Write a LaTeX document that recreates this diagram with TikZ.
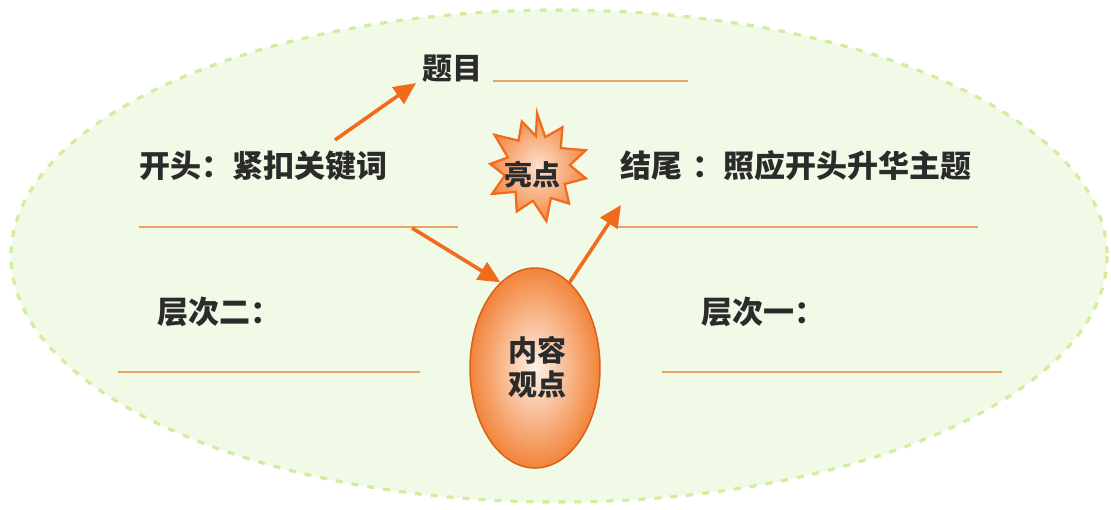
\documentclass[tikz,border=0pt]{standalone}
\usepackage{fontspec}
\newfontfamily\cjk{Noto Sans CJK SC}
\usetikzlibrary{arrows.meta,shapes.geometric}
\definecolor{bgfill}{HTML}{F1FAE6}
\definecolor{bgdash}{HTML}{D3EC9E}
\definecolor{orarrow}{HTML}{F26A1B}
\definecolor{orline}{HTML}{EBA262}
\definecolor{orfill}{HTML}{F2843A}
\definecolor{txt}{HTML}{2B2B2B}
\tikzset{
  lbl/.style={font=\cjk\bfseries\fontsize{31}{33}\selectfont, text=txt, inner sep=0pt, anchor=west},
  blank/.style={draw=orline, line width=2.6pt},
  arr/.style={draw=orarrow, line width=3.6pt, -{Triangle[length=22pt,width=20pt]}},
  ovalstyle/.style={ellipse, draw=orarrow!90!black, line width=1.5pt, minimum width=130pt, minimum height=200pt,
     inner color=white!88!orfill, outer color=orfill, inner sep=0pt},
  starstyle/.style={draw=orarrow, line width=2.2pt, inner color=white!75!orfill, outer color=orfill!95!white},
}
\begin{document}
\begin{tikzpicture}[x=1pt,y=-1pt]
\useasboundingbox (0,0) rectangle (1111,509);
% background ellipse
\draw[fill=bgfill, draw=bgdash, line width=3.2pt, dash pattern=on 7pt off 9pt] (559,256) ellipse [x radius=548, y radius=246];
% texts
\node[lbl, font=\cjk\bfseries\fontsize{30}{32}\selectfont] (timu) at (422,69) {题目};
\node[lbl] (kaitou) at (139,166) {开头：紧扣关键词};
\node[lbl] (jiewei) at (620,166) {结尾\hspace{10pt}：照应开头升华主题};
\node[lbl] (ceng2) at (157,312) {层次二：};
\node[lbl] (ceng1) at (701,312) {层次一：};
% blank lines
\coordinate (t1) at (493,81); \coordinate (t2) at (688,81);
\coordinate (l1) at (139,227); \coordinate (l2) at (458,227);
\coordinate (r1) at (618,227); \coordinate (r2) at (978,227);
\coordinate (a1) at (118,372); \coordinate (a2) at (420,372);
\coordinate (b1) at (662,372); \coordinate (b2) at (1002,372);
\draw[blank] (t1) -- (t2);
\draw[blank] (l1) -- (l2);
\draw[blank] (r1) -- (r2);
\draw[blank] (a1) -- (a2);
\draw[blank] (b1) -- (b2);
% star burst
\begin{scope}[shift={(537,168)}]
\draw[starstyle] (-90:55) -- (-75:32) -- (-58:48) -- (-40:31) -- (-20:52) -- (-5:33) -- (12:50) -- (30:32) -- (48:48) -- (65:33) -- (80:54) -- (97:33) -- (115:48) -- (132:32) -- (150:52) -- (167:33) -- (185:47) -- (200:31) -- (218:54) -- (236:33) -- (252:49) -- (268:32) -- cycle;
\end{scope}
\node[lbl, anchor=center, font=\cjk\bfseries\fontsize{28}{30}\selectfont] (liang) at (532,175) {亮点};
% oval
\node[ovalstyle] (oval) at (535,368) {};
\node[lbl, anchor=center, align=center, font=\cjk\bfseries\fontsize{29}{34}\selectfont] (neirong) at (537,367) {内容\\观点};
% arrows
\coordinate (s1) at (335,140); \coordinate (e1) at (416,83);
\coordinate (s2) at (412,228);
\coordinate (e3) at (621,205);
\draw[arr] (s1) -- (e1);
\draw[arr] (s2) -- (oval.112);
\draw[arr] (oval.68) -- (e3);
\end{tikzpicture}
\end{document}
